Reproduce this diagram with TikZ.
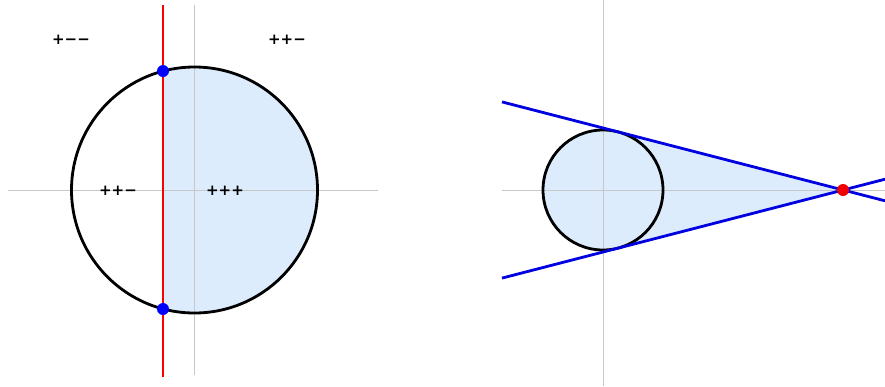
\documentclass[tikz,border=0pt]{standalone}
\usepackage{fontspec}
\setmainfont{DejaVu Sans}
\definecolor{fillblue}{RGB}{220,236,252}
\definecolor{axisgray}{RGB}{200,200,200}
\definecolor{lineblue}{RGB}{0,0,225}
\definecolor{dotblue}{RGB}{0,0,255}
\definecolor{dotred}{RGB}{240,0,0}
\begin{document}
\begin{tikzpicture}[x=1pt,y=-1pt,
  axis/.style={draw=axisgray,line width=1pt},
  region/.style={fill=fillblue,draw=none},
  curve/.style={draw=black,line width=2.8pt},
  tangent/.style={draw=lineblue,line width=2.8pt},
  redline/.style={draw=red,line width=2.2pt},
  bluedot/.style={circle,fill=dotblue,inner sep=0pt,minimum size=12pt},
  reddot/.style={circle,fill=dotred,inner sep=0pt,minimum size=12pt},
  sign/.style={font=\fontsize{15}{15}\selectfont\bfseries,inner sep=0pt}]
\useasboundingbox (0,0) rectangle (885,386);
% ---------- left figure ----------
\coordinate (C1) at (194.5,190);
\begin{scope}
  \clip (163,0) rectangle (400,386);
  \fill[region] (C1) circle (123);
\end{scope}
\coordinate (h1a) at (8,190); \coordinate (h1b) at (378,190);
\coordinate (v1a) at (194,5); \coordinate (v1b) at (194,375);
\draw[axis] (h1a) -- (h1b);
\draw[axis] (v1a) -- (v1b);
\draw[curve] (C1) circle (123);
\coordinate (r1) at (163,5); \coordinate (r2) at (163,377);
\draw[redline] (r1) -- (r2);
\node[bluedot] (d1) at (163,71) {};
\node[bluedot] (d2) at (163,309) {};
\node[sign] (s1) at (71,40) {+−−};
\node[sign] (s2) at (287,40) {++−};
\node[sign] (s3) at (118,191) {++−};
\node[sign] (s4) at (225,191) {+++};
% ---------- right figure ----------
\coordinate (C2) at (603,190);
\coordinate (P) at (843,190);
\coordinate (T1) at (618,131.9);
\coordinate (T2) at (618,248.1);
\fill[region] (C2) circle (60);
\fill[region] (P) -- (T1) -- (T2) -- cycle;
\coordinate (h2a) at (502,190); \coordinate (h2b) at (885,190);
\coordinate (v2a) at (603,0); \coordinate (v2b) at (603,386);
\draw[axis] (h2a) -- (h2b);
\draw[axis] (v2a) -- (v2b);
\draw[curve] (C2) circle (60);
\coordinate (u1) at (502,101.9); \coordinate (u2) at (885,200.8);
\coordinate (l1) at (502,278.1); \coordinate (l2) at (885,179.2);
\draw[tangent] (u1) -- (u2);
\draw[tangent] (l1) -- (l2);
\node[reddot] (p) at (P) {};
\end{tikzpicture}
\end{document}
